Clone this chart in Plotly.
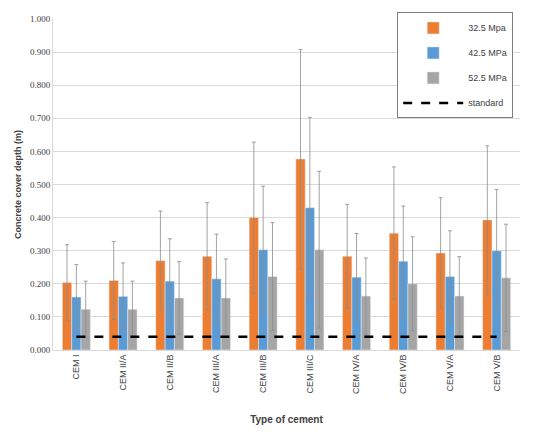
import plotly.graph_objects as go

categories = ["CEM I", "CEM II/A", "CEM II/B", "CEM III/A", "CEM III/B",
              "CEM III/C", "CEM IV/A", "CEM IV/B", "CEM V/A", "CEM V/B"]
mpa325 = [0.204, 0.210, 0.270, 0.283, 0.400, 0.577, 0.283, 0.353, 0.293, 0.393]
mpa325_err = [0.114, 0.118, 0.150, 0.162, 0.228, 0.331, 0.157, 0.200, 0.167, 0.224]
mpa425 = [0.160, 0.162, 0.208, 0.215, 0.303, 0.430, 0.220, 0.268, 0.222, 0.300]
mpa425_err = [0.098, 0.101, 0.128, 0.135, 0.192, 0.273, 0.132, 0.167, 0.138, 0.185]
mpa525 = [0.123, 0.123, 0.157, 0.157, 0.222, 0.303, 0.163, 0.200, 0.163, 0.218]
mpa525_err = [0.085, 0.085, 0.110, 0.118, 0.163, 0.237, 0.115, 0.142, 0.119, 0.162]
standard = [0.040] * len(categories)

series = [
    ("32.5 Mpa", mpa325, mpa325_err, "#ED7D31"),
    ("42.5 MPa", mpa425, mpa425_err, "#5B9BD5"),
    ("52.5 MPa", mpa525, mpa525_err, "#A5A5A5"),
]

fig = go.Figure()
for i, (name, vals, errs, col) in enumerate(series):
    fig.add_trace(go.Bar(
        x=categories, y=vals, name=name, marker_color=col,
        legendgroup=f"g{i}",
        error_y=dict(type="data", array=errs, visible=True,
                     color="#8C8C8C", thickness=0.8, width=2),
    ))
fig.add_trace(go.Scatter(
    x=categories, y=standard, name="standard", mode="lines",
    legendgroup="g3",
    line=dict(color="black", width=2.5, dash="dash"),
))

fig.update_layout(
    width=534, height=435,
    margin=dict(l=53, r=14, t=12, b=79),
    paper_bgcolor="white", plot_bgcolor="white",
    barmode="group", bargap=0.4, bargroupgap=0,
    font=dict(family="Liberation Sans", size=9, color="#404040"),
    showlegend=True,
    legend=dict(x=0.737, y=1.02, xanchor="left", yanchor="top",
                bordercolor="#7F7F7F", borderwidth=1, bgcolor="white",
                font=dict(size=9, color="#404040"),
                tracegroupgap=6, itemwidth=60),
)
fig.update_yaxes(
    range=[0, 1.0], dtick=0.1, tickformat=".3f",
    showgrid=True, gridcolor="#D9D9D9", gridwidth=1,
    showline=True, linecolor="#D9D9D9",
    zeroline=False,
    tickfont=dict(family="Liberation Serif", size=9, color="#404040"),
    title=dict(text="<b>Concrete cover depth (m)</b>",
               font=dict(family="Liberation Sans", size=9, color="#404040"),
               standoff=6),
)
fig.update_xaxes(
    tickangle=-90, showline=True, linecolor="#D9D9D9",
    tickfont=dict(family="Liberation Sans", size=9, color="#404040"),
    title=dict(text="<b>Type of cement</b>",
               font=dict(family="Liberation Sans", size=10, color="#404040"),
               standoff=22),
)

fig.write_html("out.html")
